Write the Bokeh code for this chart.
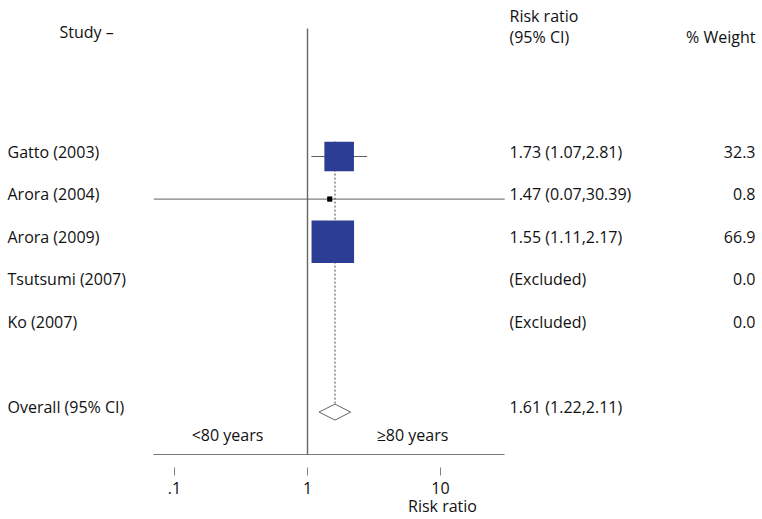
import math
from bokeh.plotting import figure
from bokeh.models import Range1d, LogAxis, FixedTicker, ColumnDataSource
from bokeh.core.properties import value
from bokeh.embed import file_html
from bokeh.resources import INLINE

# ---------------- data ----------------
studies = ["Gatto (2003)", "Arora (2004)", "Arora (2009)", "Tsutsumi (2007)", "Ko (2007)"]
rr = [1.73, 1.47, 1.55, None, None]
ci_lo = [1.07, 0.07, 1.11, None, None]
ci_hi = [2.81, 30.39, 2.17, None, None]
weights = [32.3, 0.8, 66.9, 0.0, 0.0]
ci_labels = ["1.73 (1.07,2.81)", "1.47 (0.07,30.39)", "1.55 (1.11,2.17)", "(Excluded)", "(Excluded)"]
weight_labels = ["32.3", "0.8", "66.9", "0.0", "0.0"]

overall_label = "Overall (95% CI)"
overall_rr = 1.61
overall_lo = 1.22
overall_hi = 2.11
overall_ci_label = "1.61 (1.22,2.11)"

tick_values = [0.1, 1, 10]
tick_labels = [".1", "1", "10"]
axis_title = "Risk ratio"
left_side_label = "<80 years"
right_side_label = "\u226580 years"

# ---------------- layout helpers ----------------
W, H = 762, 519
PX_ONE = 307.0      # px of RR = 1
PX_DEC = 133.0      # px per decade
ROW0 = 156.0        # px of first row
ROW_STEP = 42.6


def px2x(px):
    return 10 ** ((px - PX_ONE) / PX_DEC)


def py2row(py):
    return (py - ROW0) / ROW_STEP


FONT = value("Open Sans")
FS = "16px"
TXT = "#111111"
BOX = "#2c3d94"
GRAY = "#5e5e5e"

p = figure(width=W, height=H, x_axis_type="log",
           x_axis_location=None, y_axis_location=None,
           x_range=Range1d(px2x(0), px2x(W)),
           y_range=Range1d(py2row(H), py2row(0)),
           toolbar_location=None, output_backend="svg", min_border=0)
p.outline_line_color = None
p.grid.visible = False
p.background_fill_color = "white"

rows = list(range(len(studies)))
overall_row = len(studies) + 1
axis_row = py2row(454)

inc = [i for i in rows if rr[i] is not None]

# null line at RR = 1
p.segment(x0=[1], y0=[py2row(28)], x1=[1], y1=[axis_row], line_color="#666666", line_width=1.4)

# overall dashed line
p.segment(x0=[overall_rr], y0=[rows[0] - 0.35], x1=[overall_rr], y1=[overall_row],
          line_color="#444444", line_width=1, line_dash="2 2")

# confidence intervals
p.segment(x0=[ci_lo[i] for i in inc], y0=[rows[i] for i in inc],
          x1=[ci_hi[i] for i in inc], y1=[rows[i] for i in inc],
          line_color=GRAY, line_width=1)

# weight boxes (area proportional to weight)
k = 5.2
box_src = ColumnDataSource(dict(x=[rr[i] for i in inc], y=[rows[i] for i in inc],
                                s=[k * math.sqrt(weights[i]) for i in inc]))
p.scatter(x="x", y="y", size="s", marker="square", source=box_src,
          fill_color=BOX, line_color=None)

# point estimate marker for very small boxes
small = [i for i in inc if k * math.sqrt(weights[i]) < 8]
p.scatter(x=[rr[i] for i in small], y=[rows[i] for i in small], size=5,
          marker="square", fill_color="black", line_color=None)

# overall diamond
hh = 8 / ROW_STEP
p.patch(x=[overall_lo, overall_rr, overall_hi, overall_rr],
        y=[overall_row, overall_row - hh, overall_row, overall_row + hh],
        fill_color="white", line_color="#666666", line_width=1)

# x axis
ax = LogAxis(fixed_location=axis_row,
             ticker=FixedTicker(ticks=tick_values),
             bounds=(min(v for v in ci_lo if v is not None), max(v for v in ci_hi if v is not None)))
ax.major_label_overrides = {0.1: tick_labels[0], 1: tick_labels[1], 10: tick_labels[2]}
ax.axis_line_color = "#777777"
ax.axis_line_width = 1.2
ax.major_tick_in = -13
ax.major_tick_out = 21
ax.major_tick_line_color = "#808080"
ax.minor_tick_line_color = None
ax.major_label_standoff = 6
ax.major_label_text_font = "Open Sans"
ax.major_label_text_font_size = FS
ax.major_label_text_color = TXT
p.add_layout(ax, "below")

common = dict(text_font=FONT, text_font_size=FS, text_color=TXT, text_baseline="middle")

# axis title under the 10 tick
p.text(x=[10], y=[py2row(505)], text=[axis_title], text_align="center", x_offset=2, **common)

# side labels
p.text(x=[px2x(227)], y=[py2row(434)], text=[left_side_label], text_align="center", **common)
p.text(x=[px2x(412)], y=[py2row(434)], text=[right_side_label], text_align="center", **common)

# headers
p.text(x=[px2x(59)], y=[py2row(31)], text=["Study \u2013"], text_align="left", **common)
p.text(x=[px2x(509)], y=[py2row(15)], text=["Risk ratio"], text_align="left", **common)
p.text(x=[px2x(509)], y=[py2row(36)], text=["(95% CI)"], text_align="left", **common)
p.text(x=[px2x(755)], y=[py2row(36)], text=["% Weight"], text_align="right", **common)

# study labels and values
all_rows = rows + [overall_row]
p.text(x=[px2x(7)] * len(all_rows), y=all_rows, text=studies + [overall_label],
       text_align="left", y_offset=-5, **common)
p.text(x=[px2x(509)] * len(all_rows), y=all_rows, text=ci_labels + [overall_ci_label],
       text_align="left", y_offset=-5, **common)
p.text(x=[px2x(755)] * len(rows), y=rows, text=weight_labels,
       text_align="right", y_offset=-5, **common)

open("out.html", "w").write(file_html(p, INLINE))
